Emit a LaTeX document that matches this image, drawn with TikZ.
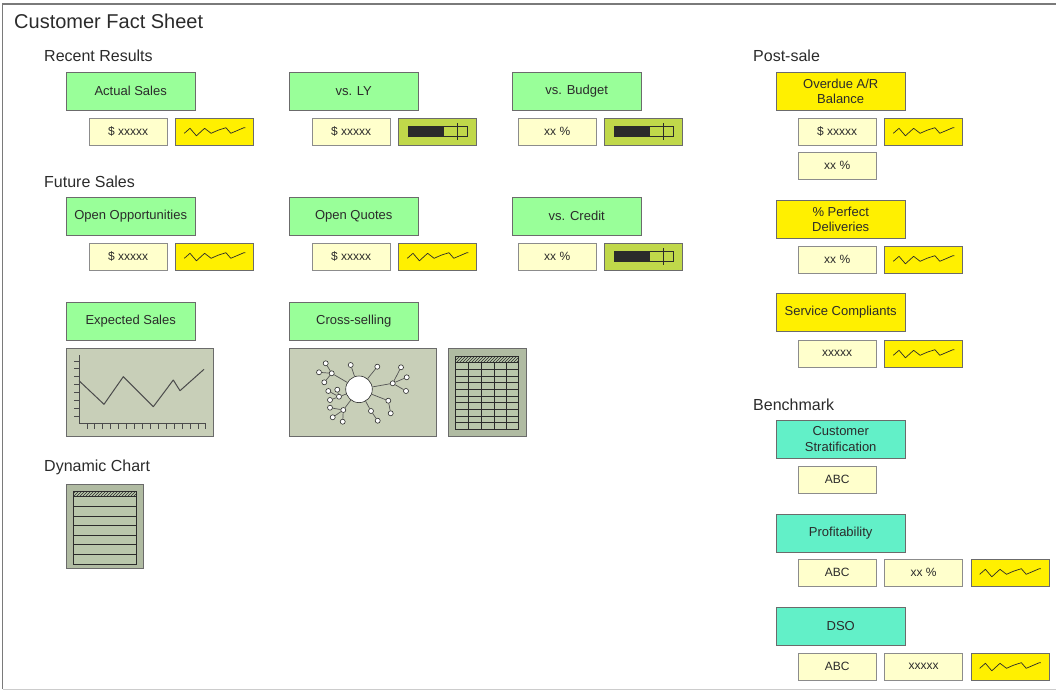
\documentclass[tikz,border=0pt]{standalone}
\usepackage{fontspec}
\setmainfont{Liberation Sans}
\usepackage{xcolor}
\usetikzlibrary{positioning,patterns}

\definecolor{ink}{HTML}{2B2B2B}
\definecolor{edge}{HTML}{6B6B6B}
\definecolor{valedge}{HTML}{8C8C8C}
\definecolor{kpigreen}{HTML}{99FF99}
\definecolor{alertyellow}{HTML}{FFF000}
\definecolor{cream}{HTML}{FFFFCC}
\definecolor{olive}{HTML}{C0D84A}
\definecolor{benchteal}{HTML}{62F0C8}
\definecolor{chartbg}{HTML}{C8CFB8}
\definecolor{gridouter}{HTML}{B0BBA2}
\definecolor{gridbg}{HTML}{B9C7AB}

\newcommand\sparkline[1]{\draw[sparkpen,shift={(#1.center)}] (-30.3,1.6) -- (-24.6,-3.4) -- (-18.2,4.1) -- (-10,-3.4) -- (-3.5,1.6) -- (3.5,-1.5) -- (11.3,-4) -- (16.2,1.6) -- (29.3,-4) -- (30.8,-4);}
\newcommand\gauge[1]{%
  \fill[ink,shift={(#1.center)}] (-29.7,-5) rectangle (6,5);
  \draw[gaugepen,shift={(#1.center)}] (-29.7,-5) rectangle (29.7,5) (19.3,-8.5) -- (19.3,8.5);}

\begin{document}
\begin{tikzpicture}[x=1pt,y=-1pt,
    every node/.style={text=ink},
    kpi/.style={draw=edge,fill=kpigreen,minimum width=129pt,minimum height=38pt,inner sep=1pt,
      align=center,anchor=north west,font=\fontsize{13}{15.5}\selectfont},
    postkpi/.style={kpi,fill=alertyellow},
    benchkpi/.style={kpi,fill=benchteal},
    val/.style={draw=valedge,fill=cream,minimum width=78pt,minimum height=27pt,inner sep=0pt,
      anchor=north west,font=\fontsize{12}{14}\selectfont},
    sparkbox/.style={val,draw=edge,fill=alertyellow},
    gaugebox/.style={val,draw=edge,fill=olive},
    heading/.style={anchor=base west,inner sep=0pt,font=\fontsize{16}{19}\selectfont},
    panel/.style={draw=edge,fill=chartbg,inner sep=0pt,anchor=north west},
    sparkpen/.style={ink,line width=0.7pt,line join=round},
    gaugepen/.style={ink,line width=0.7pt},
    axispen/.style={ink!85,line width=1pt},
    gridpen/.style={ink,line width=0.8pt},
    netpen/.style={ink!80,line width=0.7pt},
    dot/.style={circle,draw=ink,fill=white,line width=0.6pt,inner sep=0pt,minimum size=5pt},
  ]
  \useasboundingbox (0,0) rectangle (1056,690);
  \draw[edge!90,line width=1.4pt] (2.5,689) -- (2.5,4) -- (1056,4);
  \draw[black!20,line width=1pt] (2.5,689.3) -- (1056,689.3);

  \node[anchor=base west,inner sep=0pt,font=\fontsize{20}{24}\selectfont] (title) at (14,28.5) {Customer Fact Sheet};

  % recent results
  \node[heading] (recent) at (44,62) {Recent Results};
  \node[kpi] (actual) at (66,72) {Actual Sales};
  \node[kpi] (ly) at (289,72) {vs. LY};
  \node[kpi] (budget) at (512,72) {vs. Budget};
  \node[val] (actualv) at (89,118) {\$ xxxxx};
  \node[sparkbox,right=8pt of actualv] (s1) {};
  \node[val] (lyv) at (312,118) {\$ xxxxx};
  \node[gaugebox,right=8pt of lyv] (g1) {};
  \node[val] (budgetv) at (518,118) {xx \%};
  \node[gaugebox,right=8pt of budgetv] (g2) {};

  % future sales
  \node[heading] (future) at (44,187.5) {Future Sales};
  \node[kpi] (opps) at (66,197) {Open Opportunities};
  \node[kpi] (quotes) at (289,197) {Open Quotes};
  \node[kpi] (credit) at (512,197) {vs. Credit};
  \node[val] (oppsv) at (89,243) {\$ xxxxx};
  \node[sparkbox,right=8pt of oppsv] (s2) {};
  \node[val] (quotesv) at (312,243) {\$ xxxxx};
  \node[sparkbox,right=8pt of quotesv] (s3) {};
  \node[val] (creditv) at (518,243) {xx \%};
  \node[gaugebox,right=8pt of creditv] (g3) {};

  \node[kpi] (expected) at (66,302) {Expected Sales};
  \node[kpi] (cross) at (289,302) {Cross-selling};
  \node[panel,minimum width=147pt,minimum height=88pt] (trend) at (66,348) {};
  \node[panel,minimum width=147pt,minimum height=88pt] (net) at (289,348) {};
  \node[panel,fill=gridouter,minimum width=78pt,minimum height=88pt] (grid) at (448,348) {};

  \node[heading] (dynamic) at (44,471.5) {Dynamic Chart};
  \node[panel,fill=gridouter,minimum width=77pt,minimum height=84pt] (dyn) at (66,484) {};

  % post-sale
  \node[heading] (post) at (753,62) {Post-sale};
  \node[postkpi] (overdue) at (776,72) {Overdue A/R\\Balance};
  \node[val] (overduev) at (798,118) {\$ xxxxx};
  \node[sparkbox,right=8pt of overduev] (s4) {};
  \node[val] (overduep) at (798,152) {xx \%};
  \node[postkpi] (perfect) at (776,200) {\% Perfect\\Deliveries};
  \node[val] (perfectv) at (798,246) {xx \%};
  \node[sparkbox,right=8pt of perfectv] (s5) {};
  \node[postkpi] (service) at (776,293) {Service Compliants};
  \node[val] (servicev) at (798,340) {xxxxx};
  \node[sparkbox,right=8pt of servicev] (s6) {};

  % benchmark
  \node[heading] (bench) at (753,410.5) {Benchmark};
  \node[benchkpi] (strat) at (776,420) {Customer\\Stratification};
  \node[val] (stratv) at (798,466) {ABC};
  \node[benchkpi] (profit) at (776,514) {Profitability};
  \node[val] (profitv) at (798,559) {ABC};
  \node[val,right=8pt of profitv] (profitp) {xx \%};
  \node[sparkbox,right=8pt of profitp] (s7) {};
  \node[benchkpi] (dso) at (776,607) {DSO};
  \node[val] (dsov) at (798,653) {ABC};
  \node[val,right=8pt of dsov] (dsox) {xxxxx};
  \node[sparkbox,right=8pt of dsox] (s8) {};

  \foreach \s in {s1,s2,s3,s4,s5,s6,s7,s8} \sparkline{\s};
  \foreach \g in {g1,g2,g3} \gauge{\g};

  % line chart
  \begin{scope}[shift={(trend.north west)}]
    \draw[axispen] (13,7) -- (13,75) -- (140,75);
    \foreach \t in {0,...,7} \draw[axispen] (8,13+7.86*\t) -- (13,13+7.86*\t);
    \foreach \t in {0,...,15} \draw[axispen] (21+7.93*\t,75) -- (21+7.93*\t,81);
    \draw[axispen,line join=round] (13,32.7) -- (38,56.3) -- (57.3,28.7) -- (87.3,58.7) -- (107.3,32) -- (114,42.7) -- (138,21.3);
  \end{scope}

  % table
  \begin{scope}[shift={(grid.north west)}]
    \fill[gridbg] (7.7,8) rectangle (70.3,81.3);
    \fill[pattern=north east lines,pattern color=ink] (7.7,8) rectangle (70.3,14.7);
    \foreach \c in {20.3,33.7,46,58} \draw[gridpen] (\c,14.7) -- (\c,81.3);
    \foreach \r in {1,...,9} \draw[gridpen] (7.7,14.7+6.66*\r) -- (70.3,14.7+6.66*\r);
    \draw[gridpen] (7.7,8) rectangle (70.3,81.3) (7.7,14.7) -- (70.3,14.7);
  \end{scope}

  % list
  \begin{scope}[shift={(dyn.north west)}]
    \fill[gridbg] (7.3,7.7) rectangle (70,80);
    \fill[pattern=north east lines,pattern color=ink] (7.3,7.7) rectangle (70,12.7);
    \foreach \r in {1,...,6} \draw[gridpen] (7.3,12.7+9.61*\r) -- (70,12.7+9.61*\r);
    \draw[gridpen] (7.3,7.7) rectangle (70,80) (7.3,12.7) -- (70,12.7);
  \end{scope}

  % network
  \node[dot,minimum size=26.6pt] (core) at (359,389.3) {};
  \foreach \n/\x/\y in {h1/331.7/373.3, l1/325.7/363.3, l2/319/372.3, l3/324.3/382.3,
      t1/350.7/365, t2/377.3/366.7,
      h2/392.7/383.3, r1/401/367.3, r2/406.7/377.3, r3/406/391,
      h3/339/396.7, m1/328.3/391, m2/337.3/389.7, m3/330/400,
      h4/343.3/410, d1/330/407.7, d2/332.7/417.3, d3/342.7/421.7,
      c1/388.3/400.7, c2/390.7/413.3, e1/371/411, e2/377.7/420.7}
    \node[dot] (\n) at (\x,\y) {};
  \foreach \a/\b in {core/h1, h1/l1, h1/l2, h1/l3, core/t1, core/t2,
      core/h2, h2/r1, h2/r2, h2/r3, core/h3, h3/m1, h3/m2, h3/m3,
      core/h4, h4/d1, h4/d2, h4/d3, core/c1, c1/c2, core/e1, e1/e2}
    \draw[netpen] (\a) -- (\b);
\end{tikzpicture}
\end{document}
